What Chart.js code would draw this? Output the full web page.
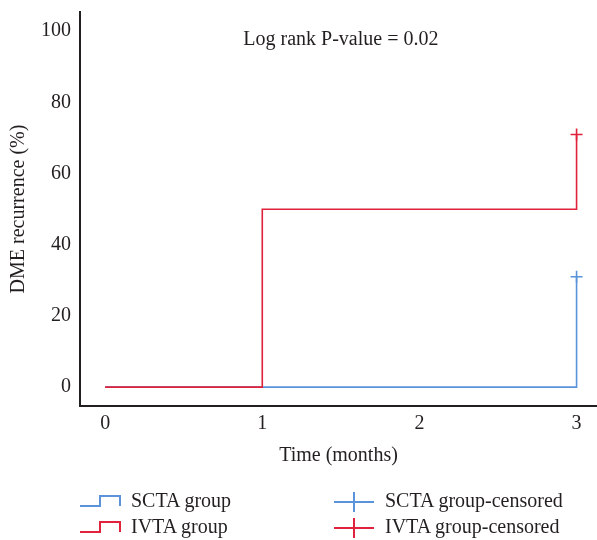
<!DOCTYPE html>
<html>
<head>
<meta charset="utf-8">
<script src="https://cdn.jsdelivr.net/npm/chart.js@4"></script>
<style>
html, body { margin: 0; padding: 0; background: #fff; }
#wrap { position: relative; width: 597px; height: 540px; }
#km { position: absolute; left: 0; top: 0; }
.leg { position: absolute; font: 20px "Liberation Serif", serif; color: #231f20; line-height: 26px; white-space: nowrap; }
#legIcons { position: absolute; left: 0; top: 0; }
</style>
</head>
<body>
<div id="wrap">
  <canvas id="km" width="597" height="540"></canvas>
  <svg id="legIcons" width="597" height="540">
    <path d="M80 506 H100 V496 H120 V506" fill="none" stroke="#5b93da" stroke-width="2"/>
    <path d="M80 532 H100 V522 H120 V532" fill="none" stroke="#e0223d" stroke-width="2"/>
    <path d="M334 502 H374 M354 492 V512" fill="none" stroke="#5b93da" stroke-width="2"/>
    <path d="M334 528 H374 M354 518 V538" fill="none" stroke="#e0223d" stroke-width="2"/>
  </svg>
  <div class="leg" style="left:131px;top:487px">SCTA group</div>
  <div class="leg" style="left:131px;top:513px">IVTA group</div>
  <div class="leg" style="left:385px;top:487px">SCTA group-censored</div>
  <div class="leg" style="left:385px;top:513px">IVTA group-censored</div>
</div>
<script>
// time points (months) and cumulative recurrence (%)
var times = [0, 1, 3];
var sctaRecurrence = [0, 0, 31];
var ivtaRecurrence = [0, 50, 71];
// censored marks
var censorTimes = [3];
var sctaCensored = [31];
var ivtaCensored = [71];
var xTicks = [0, 1, 2, 3];
var yTicks = [0, 20, 40, 60, 80, 100];
var noteText = 'Log rank P-value = 0.02';

var blue = '#5b93da';
var red = '#e0223d';
var ink = '#231f20';
var serif = '"Liberation Serif", serif';

function pts(xs, ys) {
  return xs.map(function (x, i) { return { x: x, y: ys[i] }; });
}

// no extra padding for the end labels
function noPad(s) {
  s.paddingTop = 0; s.paddingBottom = 0; s.paddingLeft = 0; s.paddingRight = 0;
}

var notePlugin = {
  id: 'note',
  afterDraw: function (chart) {
    var ctx = chart.ctx;
    ctx.save();
    ctx.font = '20px ' + serif;
    ctx.fillStyle = ink;
    ctx.textAlign = 'center';
    ctx.textBaseline = 'middle';
    ctx.fillText(noteText, chart.scales.x.getPixelForValue(1.5), chart.scales.y.getPixelForValue(97.6));
    ctx.restore();
  }
};

var ctx = document.getElementById('km').getContext('2d');
new Chart(ctx, {
  type: 'scatter',
  data: {
    datasets: [{
      label: 'SCTA group',
      data: pts(times, sctaRecurrence),
      showLine: true,
      stepped: 'before',
      borderColor: blue,
      borderWidth: 1.6,
      pointRadius: 0,
      order: 1
    }, {
      label: 'IVTA group',
      data: pts(times, ivtaRecurrence),
      showLine: true,
      stepped: 'before',
      borderColor: red,
      borderWidth: 1.6,
      pointRadius: 0,
      order: 0
    }, {
      label: 'SCTA group-censored',
      data: pts(censorTimes, sctaCensored),
      showLine: false,
      pointStyle: 'cross',
      pointRadius: 6,
      borderColor: blue,
      borderWidth: 1.6,
      order: 0
    }, {
      label: 'IVTA group-censored',
      data: pts(censorTimes, ivtaCensored),
      showLine: false,
      pointStyle: 'cross',
      pointRadius: 6,
      borderColor: red,
      borderWidth: 1.6,
      order: 0
    }]
  },
  options: {
    responsive: false,
    animation: false,
    layout: { autoPadding: false, padding: { top: 12, right: 0, left: 0, bottom: 68 } },
    plugins: {
      legend: { display: false },
      tooltip: { enabled: false }
    },
    scales: {
      x: {
        type: 'linear',
        min: -0.16,
        max: 3.13,
        afterBuildTicks: function (s) { s.ticks = xTicks.map(function (v) { return { value: v }; }); },
        afterFit: function (s) { s.height = 66; noPad(s); },
        grid: { display: false, drawTicks: false },
        border: { color: ink, width: 2 },
        ticks: { color: ink, font: { family: serif, size: 20 }, padding: 6, maxRotation: 0 },
        title: { display: true, text: 'Time (months)', color: ink, font: { family: serif, size: 20 }, padding: { top: 4, bottom: 4 } }
      },
      y: {
        min: -5.3,
        max: 105.4,
        afterBuildTicks: function (s) { s.ticks = yTicks.map(function (v) { return { value: v }; }); },
        afterFit: function (s) { s.width = 80; noPad(s); },
        grid: { display: false, drawTicks: false },
        border: { color: ink, width: 2 },
        ticks: { color: ink, font: { family: serif, size: 20 }, padding: 9 },
        title: { display: true, text: 'DME recurrence (%)', color: ink, font: { family: serif, size: 20 }, padding: { top: 7, bottom: 0 } }
      }
    }
  },
  plugins: [notePlugin]
});
</script>
</body>
</html>
